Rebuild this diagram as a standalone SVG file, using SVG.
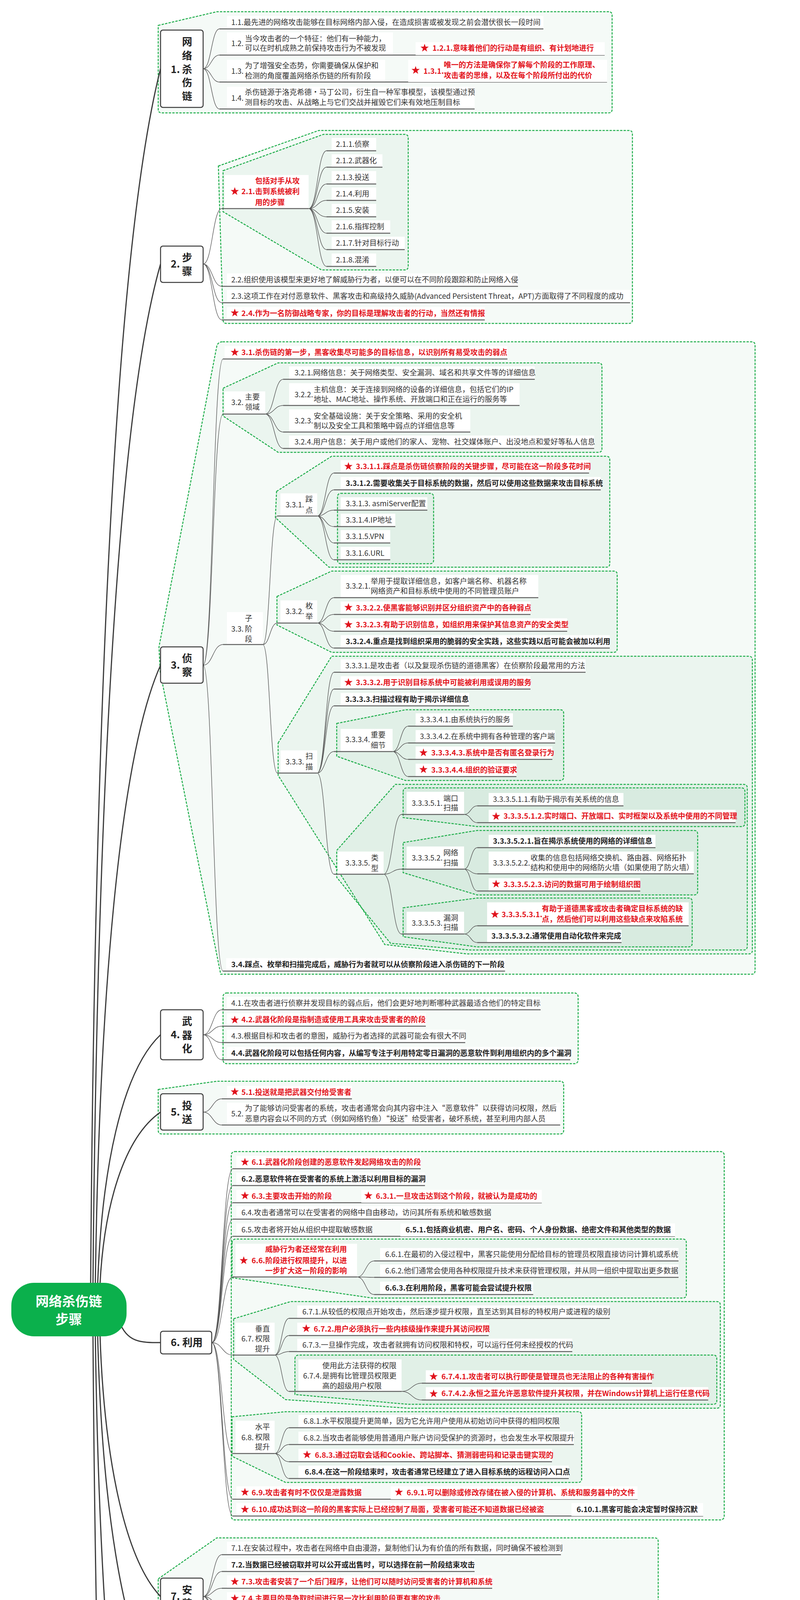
<svg xmlns="http://www.w3.org/2000/svg" width="2048" height="7608" viewBox="0 0 2048 7608">
<defs>
<style>
text{font-family:"Noto Sans CJK SC","Noto Sans",sans-serif}
.t{font-size:19px;fill:#333}
.b{font-weight:bold;fill:#222}
.r{font-weight:bold;fill:#e3141c}
.h{font-size:26px;font-weight:bold;fill:#222}
.hm{text-anchor:middle}
.bx{fill:#fff}
.u{stroke:#606060;stroke-width:2.5}
.c{fill:none;stroke:#5a5a5a;stroke-width:1.4}
.bd{fill:#1e9650;fill-opacity:.045;stroke:#20ae4c;stroke-width:2.5;stroke-dasharray:6 3}
.k{fill:#fff;stroke:#3a3a3a;stroke-width:2.5}
.rc{fill:none;stroke:#3a3a3a;stroke-width:3}
.rt{font-size:34px;font-weight:bold;fill:#fff;text-anchor:middle}
</style>
<path id="s" fill="#e0121c" d="M0,-11L2.6,-3.6L10.5,-3.4L4.2,1.4L6.5,8.9L0,4.4L-6.5,8.9L-4.2,1.4L-10.5,-3.4L-2.6,-3.6Z"/>
</defs>
<rect width="2048" height="7608" fill="#fff"/>
<g id="boundaries">
<path class="bd" d="M405,65 L555,30 L1558,30 Q1567,30 1567,39 L1567,280 Q1567,289 1558,289 L414,289 Q405,289 405,280 Z"/>
<path class="bd" d="M559,425 L816,334 L1610,334 Q1619,334 1619,343 L1619,819 Q1619,828 1610,828 L580,828 Q571,828 571,819 Z"/>
<path class="bd" d="M571,437 L828,344 L1036,344 Q1045,344 1045,353 L1045,682 Q1045,691 1036,691 L823,691 L571,542 Z"/>
<path class="bd" d="M570,875 L1924,875 Q1933,875 1933,884 L1933,2485 Q1933,2494 1924,2494 L565,2494 L410,1720 L407,1656 L555,886 Q558,875 570,875 Z"/>
<path class="bd" d="M571,994 L712,929 L1532,929 Q1541,929 1541,938 L1541,1149 Q1541,1158 1532,1158 L712,1158 L571,1065 Z"/>
<path class="bd" d="M708,1258 L849,1168 L1552,1168 Q1561,1168 1561,1177 L1561,1443 Q1561,1452 1552,1452 L842,1452 L705,1325 Z"/>
<rect class="bd" x="864" y="1263" width="246" height="180" rx="8"/>
<path class="bd" d="M709,1527 L849,1462 L1571,1462 Q1580,1462 1580,1471 L1580,1661 Q1580,1670 1571,1670 L849,1670 L709,1600 Z"/>
<path class="bd" d="M712,1902 L849,1680 L1917,1680 Q1926,1680 1926,1689 L1926,2433 Q1926,2442 1917,2442 L1195,2442 L985,2418 L712,1985 Z"/>
<path class="bd" d="M862,1852 L1038,1817 L1434,1817 Q1443,1817 1443,1826 L1443,1989 Q1443,1998 1434,1998 L1038,1998 L862,1936 Z"/>
<path class="bd" d="M862,2177 L1012,2008 L1904,2008 Q1913,2008 1913,2017 L1913,2423 Q1913,2432 1904,2432 L1205,2432 L1000,2415 L862,2246 Z"/>
<path class="bd" d="M1032,2027 Q1032,2017 1042,2017 L1898,2017 Q1907,2017 1907,2026 L1907,2107 Q1907,2116 1898,2116 L1221,2116 L1032,2093 Z"/>
<path class="bd" d="M1032,2157 L1221,2126 L1777,2126 Q1786,2126 1786,2135 L1786,2282 Q1786,2291 1777,2291 L1221,2291 L1032,2234 Z"/>
<path class="bd" d="M1032,2324 L1221,2299 L1763,2299 Q1772,2299 1772,2308 L1772,2415 Q1772,2424 1763,2424 L1221,2424 L1032,2398 Z"/>
<rect class="bd" x="571" y="2542" width="909" height="181" rx="9"/>
<path class="bd" d="M405,2789 L555,2768 L1434,2768 Q1443,2768 1443,2777 L1443,2894 Q1443,2903 1434,2903 L414,2903 Q405,2903 405,2894 Z"/>
<rect class="bd" x="592" y="2948" width="1262" height="943" rx="9"/>
<path class="bd" d="M594,3182 Q594,3172 604,3172 L1748,3172 Q1757,3172 1757,3181 L1757,3314 Q1757,3323 1748,3323 L953,3323 L594,3271 Z"/>
<path class="bd" d="M598,3376 L744,3332 L1835,3332 Q1844,3332 1844,3341 L1844,3596 Q1844,3605 1835,3605 L1045,3605 L731,3583 L598,3480 Z"/>
<path class="bd" d="M755,3479 Q755,3469 765,3469 L1826,3469 Q1835,3469 1835,3478 L1835,3586 Q1835,3595 1826,3595 L1045,3595 L755,3570 Z"/>
<path class="bd" d="M594,3627 L731,3614 L1480,3614 Q1489,3614 1489,3623 L1489,3786 Q1489,3795 1480,3795 L731,3795 L594,3728 Z"/>
<path class="bd" d="M405,4042 L555,3937 L1676,3937 Q1685,3937 1685,3946 L1685,4196 Q1685,4205 1676,4205 L555,4205 L405,4144 Z"/>
<rect class="bd" x="649" y="4251" width="679" height="137" rx="9"/>
<path class="bd" d="M568,4435 L2002,4435 Q2011,4435 2011,4444 L2011,5589 Q2011,5598 2002,5598 L560,5598 L405,5072 L405,4907 L555,4442 Q558,4435 568,4435 Z"/>
<path class="bd" d="M571,4497 Q571,4487 581,4487 L1412,4487 Q1421,4487 1421,4496 L1421,4579 Q1421,4588 1412,4588 L862,4588 L571,4563 Z"/>
<path class="bd" d="M571,4670 L784,4596 L1859,4596 Q1868,4596 1868,4605 L1868,5008 Q1868,5017 1859,5017 L1045,5017 L571,4770 Z"/>
<path class="bd" d="M803,4790 L1077,4732 L1848,4732 Q1857,4732 1857,4741 L1857,4998 Q1857,5007 1848,5007 L1064,5007 L803,4895 Z"/>
<path class="bd" d="M571,5226 L862,5090 L1100,5070 L1998,5070 Q2007,5070 2007,5079 L2007,5535 Q2007,5544 1998,5544 L1085,5544 L855,5521 L571,5331 Z"/>
<path class="bd" d="M888,5098 L1110,5078 L1950,5078 Q1959,5078 1959,5087 L1959,5164 Q1959,5173 1950,5173 L1110,5173 L888,5153 Z"/>
<path class="bd" d="M888,5307 L1058,5268 L1985,5268 Q1994,5268 1994,5277 L1994,5422 Q1994,5431 1985,5431 L1071,5431 L888,5360 Z"/>
<path class="bd" d="M1077,5329 Q1077,5319 1087,5319 L1979,5319 Q1988,5319 1988,5328 L1988,5411 Q1988,5420 1979,5420 L1384,5420 L1077,5391 Z"/>
<path class="bd" d="M888,5460 L1077,5440 L1836,5440 Q1845,5440 1845,5449 L1845,5526 Q1845,5535 1836,5535 L1077,5535 L888,5513 Z"/>
<path class="bd" d="M596,5643 L1972,5643 Q1981,5643 1981,5652 L1981,7569 Q1981,7578 1972,7578 L1156,7578 L575,7403 L575,5664 Q575,5643 596,5643 Z"/>
<path class="bd" d="M588,5707 Q588,5697 598,5697 L1861,5697 Q1870,5697 1870,5706 L1870,5787 Q1870,5796 1861,5796 L934,5796 L588,5774 Z"/>
<path class="bd" d="M584,6175 L716,5892 L894,5848 L1843,5848 Q1852,5848 1852,5857 L1852,6798 Q1852,6807 1843,6807 L940,6807 L712,6720 L578,6340 Z"/>
<path class="bd" d="M738,5904 L901,5859 L1689,5859 Q1698,5859 1698,5868 L1698,5989 Q1698,5998 1689,5998 L901,5998 L738,5953 Z"/>
<path class="bd" d="M738,6088 L920,6007 L1804,6007 Q1813,6007 1813,6016 L1813,6219 Q1813,6228 1804,6228 L927,6228 L738,6141 Z"/>
<path class="bd" d="M738,6324 L901,6279 L1728,6279 Q1737,6279 1737,6288 L1737,6409 Q1737,6418 1728,6418 L901,6418 L738,6374 Z"/>
<path class="bd" d="M738,6473 L973,6428 L1741,6428 Q1750,6428 1750,6437 L1750,6555 Q1750,6564 1741,6564 L973,6564 L738,6520 Z"/>
<path class="bd" d="M738,6659 L960,6574 L1682,6574 Q1691,6574 1691,6583 L1691,6788 Q1691,6797 1682,6797 L960,6797 L738,6708 Z"/>
<path class="bd" d="M588,6826 Q588,6816 598,6816 L1562,6816 Q1571,6816 1571,6825 L1571,7143 Q1571,7152 1562,7152 L888,7152 L581,7113 Z"/>
<path class="bd" d="M590,6902 L901,6868 L1552,6868 Q1561,6868 1561,6877 L1561,7005 Q1561,7014 1552,7014 L888,7014 L590,6980 Z"/>
<path class="bd" d="M588,7033 Q588,7023 598,7023 L1490,7023 Q1499,7023 1499,7032 L1499,7133 Q1499,7142 1490,7142 L860,7142 L588,7108 Z"/>
<path class="bd" d="M590,7289 L862,7232 L1960,7232 Q1969,7232 1969,7241 L1969,7557 Q1969,7566 1960,7566 L1170,7566 L590,7395 Z"/>
<path class="bd" d="M882,7407 Q882,7397 892,7397 L1950,7397 Q1959,7397 1959,7406 L1959,7547 Q1959,7556 1950,7556 L1175,7556 L882,7500 Z"/>
</g>
<g id="connectors">
<path class="c" d="M520,176C541,176 541,74 562,74M520,176C541,176 541,141 562,141M520,176C541,176 541,210 562,210M520,176C541,176 541,279 562,279
M520,676C544,676 544,534 568,534M520,676C544,676 544,733 568,733M520,676C544,676 544,775 568,775M520,676C544,676 544,819 568,819
M790,534C813,534 813,386 836,386M790,534C813,534 813,428 836,428M790,534C813,534 813,471 836,471M790,534C813,534 813,513 836,513M790,534C813,534 813,555 836,555M790,534C813,534 813,597 836,597M790,534C813,534 813,639 836,639M790,534C813,534 813,682 836,682
M520,1703C545,1703 545,919 571,919M520,1703C545,1703 545,1060 571,1060M520,1703C545,1703 545,1650 571,1650M520,1703C545,1703 545,2486 571,2486
M679,1060C702,1060 702,971 725,971M679,1060C702,1060 702,1038 725,1038M679,1060C702,1060 702,1106 725,1106M679,1060C702,1060 702,1148 725,1148
M673,1650C691,1650 691,1321 710,1321M673,1650C691,1650 691,1595 710,1595M673,1650C691,1650 691,1979 710,1979
M812,1321C833,1321 833,1211 855,1211M812,1321C833,1321 833,1254 855,1254M812,1321C833,1321 833,1306 855,1306M812,1321C833,1321 833,1348 855,1348M812,1321C833,1321 833,1390 855,1390M812,1321C833,1321 833,1433 855,1433
M812,1595C833,1595 833,1530 855,1530M812,1595C833,1595 833,1573 855,1573M812,1595C833,1595 833,1616 855,1616M812,1595C833,1595 833,1659 855,1659
M812,1979C833,1979 833,1721 855,1721M812,1979C833,1979 833,1764 855,1764M812,1979C833,1979 833,1807 855,1807M812,1979C833,1979 833,1924 855,1924M812,1979C833,1979 833,2238 855,2238
M1005,1924C1025,1924 1025,1859 1045,1859M1005,1924C1025,1924 1025,1902 1045,1902M1005,1924C1025,1924 1025,1944 1045,1944M1005,1924C1025,1924 1025,1988 1045,1988
M982,2238C1005,2238 1005,2085 1028,2085M982,2238C1005,2238 1005,2225 1028,2225M982,2238C1005,2238 1005,2391 1028,2391
M1188,2085C1205,2085 1205,2063 1222,2063M1188,2085C1205,2085 1205,2106 1222,2106
M1188,2225C1205,2225 1205,2170 1222,2170M1188,2225C1205,2225 1205,2237 1222,2237M1188,2225C1205,2225 1205,2281 1222,2281
M1188,2391C1205,2391 1205,2370 1222,2370M1188,2391C1205,2391 1205,2413 1222,2413
M520,2649C544,2649 544,2585 568,2585M520,2649C544,2649 544,2627 568,2627M520,2649C544,2649 544,2669 568,2669M520,2649C544,2649 544,2713 568,2713
M520,2847C544,2847 544,2813 568,2813M520,2847C544,2847 544,2880 568,2880
M542,3437C569,3437 569,2992 596,2992M542,3437C569,3437 569,3035 596,3035M542,3437C569,3437 569,3079 596,3079M542,3437C569,3437 569,3121 596,3121M542,3437C569,3437 569,3165 596,3165M542,3437C569,3437 569,3269 596,3269M542,3437C569,3437 569,3469 596,3469M542,3437C569,3437 569,3721 596,3721M542,3437C569,3437 569,3838 596,3838M542,3437C569,3437 569,3881 596,3881
M914,3269C936,3269 936,3228 958,3228M914,3269C936,3269 936,3270 958,3270M914,3269C936,3269 936,3314 958,3314
M703,3469C721,3469 721,3375 740,3375M703,3469C721,3469 721,3419 740,3419M703,3469C721,3469 721,3460 740,3460M703,3469C721,3469 721,3562 740,3562
M1028,3562C1054,3562 1054,3541 1080,3541M1028,3562C1054,3562 1054,3584 1080,3584
M703,3721C721,3721 721,3655 740,3655M703,3721C721,3721 721,3698 740,3698M703,3721C721,3721 721,3742 740,3742M703,3721C721,3721 721,3785 740,3785
M520,4087C544,4087 544,3980 568,3980M520,4087C544,4087 544,4023 568,4023M520,4087C544,4087 544,4066 568,4066M520,4087C544,4087 544,4109 568,4109M520,4087C544,4087 544,4153 568,4153M520,4087C544,4087 544,4195 568,4195
M594,4337C621,4337 621,4294 649,4294M594,4337C621,4337 621,4337 649,4337M594,4337C621,4337 621,4378 649,4378
M520,5032C544,5032 544,4478 568,4478M520,5032C544,5032 544,4556 568,4556M520,5032C544,5032 544,4763 568,4763M520,5032C544,5032 544,5060 568,5060M520,5032C544,5032 544,5323 568,5323M520,5032C544,5032 544,5587 568,5587
M832,4556C856,4556 856,4534 880,4534M832,4556C856,4556 856,4577 880,4577
M754,4763C772,4763 772,4639 790,4639M754,4763C772,4763 772,4681 790,4681M754,4763C772,4763 772,4723 790,4723M754,4763C772,4763 772,4886 790,4886
M1041,4886C1060,4886 1060,4776 1080,4776M1041,4886C1060,4886 1060,4817 1080,4817M1041,4886C1060,4886 1060,4885 1080,4885M1041,4886C1060,4886 1060,4927 1080,4927M1041,4886C1060,4886 1060,4997 1080,4997
M836,5323C858,5323 858,5144 880,5144M836,5323C858,5323 858,5216 880,5216M836,5323C858,5323 858,5259 880,5259M836,5323C858,5323 858,5350 880,5350M836,5323C858,5323 858,5504 880,5504
M1073,5144C1091,5144 1091,5123 1110,5123M1073,5144C1091,5144 1091,5164 1110,5164
M1016,5350C1035,5350 1035,5311 1055,5311M1016,5350C1035,5350 1035,5389 1055,5389
M1345,5389C1365,5389 1365,5368 1385,5368M1345,5389C1365,5389 1365,5411 1385,5411
M1036,5504C1058,5504 1058,5482 1080,5482M1036,5504C1058,5504 1058,5525 1080,5525
M535,6531C561,6531 561,5686 588,5686M535,6531C561,6531 561,5765 588,5765M535,6531C561,6531 561,5839 588,5839M535,6531C561,6531 561,6324 588,6324M535,6531C561,6531 561,6858 588,6858M535,6531C561,6531 561,6970 588,6970M535,6531C561,6531 561,7099 588,7099M535,6531C561,6531 561,7221 588,7221M535,6531C561,6531 561,7383 588,7383
M905,5765C922,5765 922,5744 940,5744M905,5765C922,5765 922,5786 940,5786
M699,6324C717,6324 717,5945 735,5945M699,6324C717,6324 717,6134 735,6134M699,6324C717,6324 717,6270 735,6270M699,6324C717,6324 717,6365 735,6365M699,6324C717,6324 717,6513 735,6513M699,6324C717,6324 717,6702 735,6702
M855,5945C877,5945 877,5902 900,5902M855,5945L900,5945M855,5945C877,5945 877,5988 900,5988
M875,6134C895,6134 895,6050 915,6050M875,6134C895,6134 895,6092 915,6092M875,6134L915,6134M875,6134C895,6134 895,6176 915,6176M875,6134C895,6134 895,6218 915,6218
M855,6365C877,6365 877,6323 900,6323M855,6365L900,6365M855,6365C877,6365 877,6408 900,6408
M927,6513C946,6513 946,6470 965,6470M927,6513L965,6513M927,6513C946,6513 946,6554 965,6554
M904,6702C924,6702 924,6618 945,6618M904,6702C924,6702 924,6660 945,6660M904,6702L945,6702M904,6702C924,6702 924,6743 945,6743M904,6702C924,6702 924,6787 945,6787
M855,6970C872,6970 872,6936 890,6936M855,6970C872,6970 872,7004 890,7004
M842,7099C861,7099 861,7065 880,7065M842,7099C861,7099 861,7132 880,7132
M829,7383C849,7383 849,7275 870,7275M829,7383C849,7383 849,7317 870,7317M829,7383C849,7383 849,7386 870,7386M829,7383C849,7383 849,7493 870,7493
M1147,7493C1166,7493 1166,7439 1185,7439M1147,7493C1166,7493 1166,7480 1185,7480M1147,7493C1166,7493 1166,7548 1185,7548"/>
</g>
<g id="root-connectors">
<path class="rc" d="M232,3288C242,1888 292,643 411,176"/>
<path class="rc" d="M238,3288C248,2113 298,1068 411,676"/>
<path class="rc" d="M244,3288C254,2575 304,1941 411,1703"/>
<path class="rc" d="M250,3288C260,3000 310,2745 411,2649"/>
<path class="rc" d="M256,3288C266,3090 316,2913 411,2847"/>
<path class="rc" d="M305,3382C325,3437 360,3437 411,3437"/>
<path class="rc" d="M256,3417C266,3719 316,3987 411,4087"/>
<path class="rc" d="M250,3417C260,3831 310,4199 411,4337"/>
<path class="rc" d="M244,3417C254,4144 304,4790 411,5032"/>
<path class="rc" d="M238,3417C248,4818 298,6064 411,6531"/>
</g>
<g id="root"><rect x="29" y="3284" width="295" height="137" rx="58" fill="#0bb04c"/><text class="rt" x="176" y="3344">网络杀伤链</text><text class="rt" x="176" y="3390">步骤</text></g>

<g id="n1"><rect class="k" x="411" y="77" width="109" height="198" rx="6"/><text class="h" x="437" y="187">1.</text><text class="h hm" x="479" y="116">网</text><text class="h hm" x="479" y="152">络</text><text class="h hm" x="479" y="187">杀</text><text class="h hm" x="479" y="221">伤</text><text class="h hm" x="479" y="256">链</text></g>
<g id="n1-1"><rect class="bx" x="581" y="41" width="810" height="33"/><text class="t" x="592" y="64">1.1.最先进的网络攻击能够在目标网络内部入侵，在造成损害或被发现之前会潜伏很长一段时间</text><line class="u" x1="562" y1="74" x2="1391" y2="74"/></g>
<g id="n1-2"><rect class="bx" x="581" y="83" width="425" height="58"/><text class="t" x="592" y="118">1.2.</text><text class="t" x="627" y="106">当今攻击者的一个特征：他们有一种能力，</text><text class="t" x="627" y="130">可以在时机成熟之前保持攻击行为不被发现</text><line class="u" x1="562" y1="141" x2="1548" y2="141"/></g>
<g id="n1-2-1"><rect class="bx" x="1064" y="108" width="484" height="33"/><use href="#s" x="1087" y="123"/><text class="t r" x="1107" y="130">1.2.1.意味着他们的行动是有组织、有计划地进行</text></g>
<g id="n1-3"><rect class="bx" x="581" y="153" width="405" height="57"/><text class="t" x="592" y="189">1.3.</text><text class="t" x="627" y="175">为了增强安全态势，你需要确保从保护和</text><text class="t" x="627" y="201">检测的角度覆盖网络杀伤链的所有阶段</text><line class="u" x1="562" y1="210" x2="1554" y2="210"/></g>
<g id="n1-3-1"><rect class="bx" x="1045" y="153" width="509" height="57"/><use href="#s" x="1064" y="180"/><text class="t r" x="1084" y="189">1.3.1.</text><text class="t r" x="1136" y="173">唯一的方法是确保你了解每个阶段的工作原理、</text><text class="t r" x="1136" y="200">攻击者的思维，以及在每个阶段所付出的代价</text></g>
<g id="n1-4"><rect class="bx" x="581" y="222" width="634" height="57"/><text class="t" x="592" y="258">1.4.</text><text class="t" x="627" y="243">杀伤链源于洛克希德·马丁公司，衍生自一种军事模型，该模型通过预</text><text class="t" x="627" y="269">测目标的攻击、从战略上与它们交战并摧毁它们来有效地压制目标</text><line class="u" x1="562" y1="279" x2="1215" y2="279"/></g>

<g id="n2"><rect class="k" x="411" y="630" width="109" height="93" rx="6"/><text class="h" x="437" y="685">2.</text><text class="h hm" x="479" y="669">步</text><text class="h hm" x="479" y="704">骤</text></g>
<g id="n2-1"><rect class="bx" x="575" y="448" width="215" height="86"/><use href="#s" x="601" y="490"/><text class="t r" x="618" y="497">2.1.</text><text class="t r" x="653" y="470">包括对手从攻</text><text class="t r" x="653" y="497">击到系统被利</text><text class="t r" x="653" y="525">用的步骤</text><line class="u" x1="568" y1="534" x2="790" y2="534"/></g>
<g id="n2-1-1"><rect class="bx" x="849" y="353" width="114" height="33"/><text class="t" x="860" y="376">2.1.1.侦察</text><line class="u" x1="836" y1="386" x2="963" y2="386"/></g>
<g id="n2-1-2"><rect class="bx" x="849" y="395" width="130" height="33"/><text class="t" x="860" y="418">2.1.2.武器化</text><line class="u" x1="836" y1="428" x2="979" y2="428"/></g>
<g id="n2-1-3"><rect class="bx" x="849" y="438" width="114" height="33"/><text class="t" x="860" y="461">2.1.3.投送</text><line class="u" x1="836" y1="471" x2="963" y2="471"/></g>
<g id="n2-1-4"><rect class="bx" x="849" y="480" width="114" height="33"/><text class="t" x="860" y="503">2.1.4.利用</text><line class="u" x1="836" y1="513" x2="963" y2="513"/></g>
<g id="n2-1-5"><rect class="bx" x="849" y="522" width="114" height="33"/><text class="t" x="860" y="545">2.1.5.安装</text><line class="u" x1="836" y1="555" x2="963" y2="555"/></g>
<g id="n2-1-6"><rect class="bx" x="849" y="564" width="150" height="33"/><text class="t" x="860" y="587">2.1.6.指挥控制</text><line class="u" x1="836" y1="597" x2="999" y2="597"/></g>
<g id="n2-1-7"><rect class="bx" x="849" y="606" width="187" height="33"/><text class="t" x="860" y="629">2.1.7.针对目标行动</text><line class="u" x1="836" y1="639" x2="1036" y2="639"/></g>
<g id="n2-1-8"><rect class="bx" x="849" y="649" width="114" height="33"/><text class="t" x="860" y="672">2.1.8.混淆</text><line class="u" x1="836" y1="682" x2="963" y2="682"/></g>
<g id="n2-2"><rect class="bx" x="581" y="700" width="745" height="33"/><text class="t" x="592" y="723">2.2.组织使用该模型来更好地了解威胁行为者，以便可以在不同阶段跟踪和防止网络入侵</text><line class="u" x1="568" y1="733" x2="1326" y2="733"/></g>
<g id="n2-3"><rect class="bx" x="581" y="742" width="1032" height="33"/><text class="t" x="592" y="765">2.3.这项工作在对付恶意软件、黑客攻击和高级持久威胁(Advanced Persistent Threat，APT)方面取得了不同程度的成功</text><line class="u" x1="568" y1="775" x2="1613" y2="775"/></g>
<g id="n2-4"><rect class="bx" x="581" y="786" width="660" height="33"/><use href="#s" x="601" y="801"/><text class="t r" x="618" y="809">2.4.作为一名防御战略专家，你的目标是理解攻击者的行动，当然还有情报</text><line class="u" x1="568" y1="819" x2="1241" y2="819"/></g>

<g id="n3"><rect class="k" x="411" y="1656" width="109" height="93" rx="6"/><text class="h" x="437" y="1712">3.</text><text class="h hm" x="479" y="1695">侦</text><text class="h hm" x="479" y="1730">察</text></g>
<g id="n3-1"><rect class="bx" x="575" y="886" width="724" height="33"/><use href="#s" x="601" y="902"/><text class="t r" x="618" y="909">3.1.杀伤链的第一步，黑客收集尽可能多的目标信息，以识别所有易受攻击的弱点</text><line class="u" x1="571" y1="919" x2="1299" y2="919"/></g>
<g id="n3-2"><rect class="bx" x="575" y="1002" width="104" height="58"/><text class="t" x="592" y="1037">3.2.</text><text class="t" x="627" y="1023">主要</text><text class="t" x="627" y="1049">领域</text><line class="u" x1="571" y1="1060" x2="679" y2="1060"/></g>
<g id="n3-2-1"><rect class="bx" x="740" y="938" width="629" height="33"/><text class="t" x="754" y="961">3.2.1.网络信息：关于网络类型、安全漏洞、域名和共享文件等的详细信息</text><line class="u" x1="725" y1="971" x2="1369" y2="971"/></g>
<g id="n3-2-2"><rect class="bx" x="740" y="981" width="590" height="57"/><text class="t" x="754" y="1017">3.2.2.</text><text class="t" x="803" y="1004">主机信息：关于连接到网络的设备的详细信息，包括它们的IP</text><text class="t" x="803" y="1029">地址、MAC地址、操作系统、开放端口和正在运行的服务等</text><line class="u" x1="725" y1="1038" x2="1330" y2="1038"/></g>
<g id="n3-2-3"><rect class="bx" x="740" y="1048" width="464" height="58"/><text class="t" x="754" y="1084">3.2.3.</text><text class="t" x="803" y="1072">安全基础设施：关于安全策略、采用的安全机</text><text class="t" x="803" y="1097">制以及安全工具和策略中弱点的详细信息等</text><line class="u" x1="725" y1="1106" x2="1204" y2="1106"/></g>
<g id="n3-2-4"><rect class="bx" x="740" y="1115" width="781" height="33"/><text class="t" x="754" y="1138">3.2.4.用户信息：关于用户或他们的家人、宠物、社交媒体账户、出没地点和爱好等私人信息</text><line class="u" x1="725" y1="1148" x2="1521" y2="1148"/></g>
<g id="n3-3"><rect class="bx" x="581" y="1567" width="92" height="83"/><text class="t" x="592" y="1617">3.3.</text><text class="t" x="627" y="1590">子</text><text class="t" x="627" y="1617">阶</text><text class="t" x="627" y="1643">段</text><line class="u" x1="571" y1="1650" x2="673" y2="1650"/></g>
<g id="n3-3-1"><rect class="bx" x="718" y="1263" width="94" height="58"/><text class="t" x="731" y="1299">3.3.1.</text><text class="t" x="782" y="1285">踩</text><text class="t" x="782" y="1313">点</text><line class="u" x1="710" y1="1321" x2="812" y2="1321"/></g>
<g id="n3-3-1-1"><rect class="bx" x="872" y="1178" width="636" height="33"/><use href="#s" x="892" y="1194"/><text class="t r" x="911" y="1201">3.3.1.1.踩点是杀伤链侦察阶段的关键步骤，尽可能在这一阶段多花时间</text><line class="u" x1="855" y1="1211" x2="1508" y2="1211"/></g>
<g id="n3-3-1-2"><rect class="bx" x="872" y="1221" width="666" height="33"/><text class="t b" x="885" y="1244">3.3.1.2.需要收集关于目标系统的数据，然后可以使用这些数据来攻击目标系统</text><line class="u" x1="855" y1="1254" x2="1538" y2="1254"/></g>
<g id="n3-3-1-3"><rect class="bx" x="872" y="1273" width="222" height="33"/><text class="t" x="885" y="1296">3.3.1.3. asmiServer配置</text><line class="u" x1="855" y1="1306" x2="1094" y2="1306"/></g>
<g id="n3-3-1-4"><rect class="bx" x="872" y="1315" width="140" height="33"/><text class="t" x="885" y="1338">3.3.1.4.IP地址</text><line class="u" x1="855" y1="1348" x2="1012" y2="1348"/></g>
<g id="n3-3-1-5"><rect class="bx" x="872" y="1357" width="127" height="33"/><text class="t" x="885" y="1380">3.3.1.5.VPN</text><line class="u" x1="855" y1="1390" x2="999" y2="1390"/></g>
<g id="n3-3-1-6"><rect class="bx" x="872" y="1400" width="127" height="33"/><text class="t" x="885" y="1423">3.3.1.6.URL</text><line class="u" x1="855" y1="1433" x2="999" y2="1433"/></g>
<g id="n3-3-2"><rect class="bx" x="718" y="1537" width="94" height="58"/><text class="t" x="731" y="1572">3.3.2.</text><text class="t" x="782" y="1558">枚</text><text class="t" x="782" y="1585">举</text><line class="u" x1="710" y1="1595" x2="812" y2="1595"/></g>
<g id="n3-3-2-1"><rect class="bx" x="872" y="1472" width="506" height="58"/><text class="t" x="885" y="1507">3.3.2.1.</text><text class="t" x="949" y="1495">举用于提取详细信息，如客户端名称、机器名称</text><text class="t" x="949" y="1520">网络资产和目标系统中使用的不同管理员账户</text><line class="u" x1="855" y1="1530" x2="1378" y2="1530"/></g>
<g id="n3-3-2-2"><rect class="bx" x="872" y="1540" width="486" height="33"/><use href="#s" x="892" y="1555"/><text class="t r" x="911" y="1563">3.3.2.2.使黑客能够识别并区分组织资产中的各种弱点</text><line class="u" x1="855" y1="1573" x2="1358" y2="1573"/></g>
<g id="n3-3-2-3"><rect class="bx" x="872" y="1583" width="580" height="33"/><use href="#s" x="892" y="1599"/><text class="t r" x="911" y="1606">3.3.2.3.有助于识别信息，如组织用来保护其信息资产的安全类型</text><line class="u" x1="855" y1="1616" x2="1452" y2="1616"/></g>
<g id="n3-3-2-4"><rect class="bx" x="872" y="1626" width="689" height="33"/><text class="t b" x="885" y="1649">3.3.2.4.重点是找到组织采用的脆弱的安全实践，这些实践以后可能会被加以利用</text><line class="u" x1="855" y1="1659" x2="1561" y2="1659"/></g>
<g id="n3-3-3"><rect class="bx" x="718" y="1921" width="94" height="58"/><text class="t" x="731" y="1957">3.3.3.</text><text class="t" x="782" y="1943">扫</text><text class="t" x="782" y="1970">描</text><line class="u" x1="710" y1="1979" x2="812" y2="1979"/></g>
<g id="n3-3-3-1"><rect class="bx" x="872" y="1688" width="627" height="33"/><text class="t" x="884" y="1711">3.3.3.1.是攻击者（以及复现杀伤链的道德黑客）在侦察阶段最常用的方法</text><line class="u" x1="855" y1="1721" x2="1499" y2="1721"/></g>
<g id="n3-3-3-2"><rect class="bx" x="872" y="1731" width="486" height="33"/><use href="#s" x="892" y="1747"/><text class="t r" x="911" y="1754">3.3.3.2.用于识别目标系统中可能被利用或误用的服务</text><line class="u" x1="855" y1="1764" x2="1358" y2="1764"/></g>
<g id="n3-3-3-3"><rect class="bx" x="872" y="1774" width="329" height="33"/><text class="t b" x="884" y="1797">3.3.3.3.扫描过程有助于揭示详细信息</text><line class="u" x1="855" y1="1807" x2="1201" y2="1807"/></g>
<g id="n3-3-3-4"><rect class="bx" x="872" y="1866" width="133" height="58"/><text class="t" x="884" y="1900">3.3.3.4.</text><text class="t" x="949" y="1888">重要</text><text class="t" x="949" y="1915">细节</text><line class="u" x1="855" y1="1924" x2="1005" y2="1924"/></g>
<g id="n3-3-3-4-1"><rect class="bx" x="1064" y="1826" width="249" height="33"/><text class="t" x="1075" y="1849">3.3.3.4.1.由系统执行的服务</text><line class="u" x1="1045" y1="1859" x2="1313" y2="1859"/></g>
<g id="n3-3-3-4-2"><rect class="bx" x="1064" y="1869" width="357" height="33"/><text class="t" x="1075" y="1892">3.3.3.4.2.在系统中拥有各种管理的客户端</text><line class="u" x1="1045" y1="1902" x2="1421" y2="1902"/></g>
<g id="n3-3-3-4-3"><rect class="bx" x="1064" y="1911" width="350" height="33"/><use href="#s" x="1084" y="1927"/><text class="t r" x="1104" y="1934">3.3.3.4.3.系统中是否有匿名登录行为</text><line class="u" x1="1045" y1="1944" x2="1414" y2="1944"/></g>
<g id="n3-3-3-4-4"><rect class="bx" x="1064" y="1955" width="258" height="33"/><use href="#s" x="1084" y="1970"/><text class="t r" x="1104" y="1978">3.3.3.4.4.组织的验证要求</text><line class="u" x1="1045" y1="1988" x2="1322" y2="1988"/></g>
<g id="n3-3-3-5"><rect class="bx" x="864" y="2180" width="118" height="58"/><text class="t" x="884" y="2216">3.3.3.5.</text><text class="t" x="950" y="2203">类</text><text class="t" x="950" y="2230">型</text><line class="u" x1="855" y1="2238" x2="982" y2="2238"/></g>
<g id="n3-3-3-5-1"><rect class="bx" x="1041" y="2027" width="147" height="58"/><text class="t" x="1054" y="2063">3.3.3.5.1.</text><text class="t" x="1135" y="2051">端口</text><text class="t" x="1135" y="2075">扫描</text><line class="u" x1="1028" y1="2085" x2="1188" y2="2085"/></g>
<g id="n3-3-3-5-1-1"><rect class="bx" x="1251" y="2030" width="345" height="33"/><text class="t" x="1262" y="2053">3.3.3.5.1.1.有助于揭示有关系统的信息</text><line class="u" x1="1222" y1="2063" x2="1596" y2="2063"/></g>
<g id="n3-3-3-5-1-2"><rect class="bx" x="1251" y="2073" width="632" height="33"/><use href="#s" x="1270" y="2090"/><text class="t r" x="1289" y="2096">3.3.3.5.1.2.实时端口、开放端口、实时框架以及系统中使用的不同管理</text><line class="u" x1="1222" y1="2106" x2="1883" y2="2106"/></g>
<g id="n3-3-3-5-2"><rect class="bx" x="1041" y="2167" width="147" height="58"/><text class="t" x="1054" y="2203">3.3.3.5.2.</text><text class="t" x="1135" y="2190">网络</text><text class="t" x="1135" y="2216">扫描</text><line class="u" x1="1028" y1="2225" x2="1188" y2="2225"/></g>
<g id="n3-3-3-5-2-1"><rect class="bx" x="1251" y="2137" width="427" height="33"/><text class="t b" x="1262" y="2160">3.3.3.5.2.1.旨在揭示系统使用的网络的详细信息</text><line class="u" x1="1222" y1="2170" x2="1678" y2="2170"/></g>
<g id="n3-3-3-5-2-2"><rect class="bx" x="1251" y="2180" width="525" height="57"/><text class="t" x="1262" y="2216">3.3.3.5.2.2.</text><text class="t" x="1358" y="2203">收集的信息包括网络交换机、路由器、网络拓扑</text><text class="t" x="1358" y="2228">结构和使用中的网络防火墙（如果使用了防火墙）</text><line class="u" x1="1222" y1="2237" x2="1776" y2="2237"/></g>
<g id="n3-3-3-5-2-3"><rect class="bx" x="1251" y="2248" width="388" height="33"/><use href="#s" x="1270" y="2263"/><text class="t r" x="1289" y="2271">3.3.3.5.2.3.访问的数据可用于绘制组织图</text><line class="u" x1="1222" y1="2281" x2="1639" y2="2281"/></g>
<g id="n3-3-3-5-3"><rect class="bx" x="1041" y="2334" width="147" height="57"/><text class="t" x="1054" y="2370">3.3.3.5.3.</text><text class="t" x="1135" y="2357">漏洞</text><text class="t" x="1135" y="2381">扫描</text><line class="u" x1="1028" y1="2391" x2="1188" y2="2391"/></g>
<g id="n3-3-3-5-3-1"><rect class="bx" x="1247" y="2310" width="516" height="60"/><use href="#s" x="1267" y="2341"/><text class="t r" x="1284" y="2348">3.3.3.5.3.1.</text><text class="t r" x="1387" y="2333">有助于道德黑客或攻击者确定目标系统的缺</text><text class="t r" x="1387" y="2360">点，然后他们可以利用这些缺点来攻陷系统</text><line class="u" x1="1222" y1="2370" x2="1763" y2="2370"/></g>
<g id="n3-3-3-5-3-2"><rect class="bx" x="1247" y="2380" width="344" height="33"/><text class="t b" x="1258" y="2403">3.3.3.5.3.2.通常使用自动化软件来完成</text><line class="u" x1="1222" y1="2413" x2="1591" y2="2413"/></g>
<g id="n3-4"><rect class="bx" x="579" y="2453" width="714" height="33"/><text class="t b" x="592" y="2476">3.4.踩点、枚举和扫描完成后，威胁行为者就可以从侦察阶段进入杀伤链的下一阶段</text><line class="u" x1="571" y1="2486" x2="1293" y2="2486"/></g>

<g id="n4"><rect class="k" x="411" y="2585" width="109" height="128" rx="6"/><text class="h" x="437" y="2658">4.</text><text class="h hm" x="479" y="2624">武</text><text class="h hm" x="479" y="2660">器</text><text class="h hm" x="479" y="2694">化</text></g>
<g id="n4-1"><rect class="bx" x="581" y="2552" width="803" height="33"/><text class="t" x="592" y="2575">4.1.在攻击者进行侦察并发现目标的弱点后，他们会更好地判断哪种武器最适合他们的特定目标</text><line class="u" x1="568" y1="2585" x2="1384" y2="2585"/></g>
<g id="n4-2"><rect class="bx" x="581" y="2594" width="509" height="33"/><use href="#s" x="601" y="2611"/><text class="t r" x="618" y="2617">4.2.武器化阶段是指制造或使用工具来攻击受害者的阶段</text><line class="u" x1="568" y1="2627" x2="1090" y2="2627"/></g>
<g id="n4-3"><rect class="bx" x="581" y="2636" width="610" height="33"/><text class="t" x="592" y="2659">4.3.根据目标和攻击者的意图，威胁行为者选择的武器可能会有很大不同</text><line class="u" x1="568" y1="2669" x2="1191" y2="2669"/></g>
<g id="n4-4"><rect class="bx" x="581" y="2680" width="879" height="33"/><text class="t b" x="592" y="2703">4.4.武器化阶段可以包括任何内容，从编写专注于利用特定零日漏洞的恶意软件到利用组织内的多个漏洞</text><line class="u" x1="568" y1="2713" x2="1460" y2="2713"/></g>

<g id="n5"><rect class="k" x="411" y="2800" width="109" height="93" rx="6"/><text class="h" x="437" y="2856">5.</text><text class="h hm" x="479" y="2840">投</text><text class="h hm" x="479" y="2875">送</text></g>
<g id="n5-1"><rect class="bx" x="581" y="2780" width="320" height="33"/><use href="#s" x="601" y="2795"/><text class="t r" x="618" y="2803">5.1.投送就是把武器交付给受害者</text><line class="u" x1="568" y1="2813" x2="901" y2="2813"/></g>
<g id="n5-2"><rect class="bx" x="581" y="2823" width="853" height="57"/><text class="t" x="592" y="2858">5.2.</text><text class="t" x="627" y="2844">为了能够访问受害者的系统，攻击者通常会向其内容中注入“恶意软件”以获得访问权限，然后</text><text class="t" x="627" y="2871">恶意内容会以不同的方式（例如网络钓鱼）“投送”给受害者，破坏系统，甚至利用内部人员</text><line class="u" x1="568" y1="2880" x2="1434" y2="2880"/></g>

<g id="n6"><rect class="k" x="411" y="3408" width="131" height="58" rx="6"/><text class="h" x="437" y="3446">6. 利用</text></g>
<g id="n6-1"><rect class="bx" x="605" y="2959" width="472" height="33"/><use href="#s" x="627" y="2975"/><text class="t r" x="644" y="2982">6.1.武器化阶段创建的恶意软件发起网络攻击的阶段</text><line class="u" x1="596" y1="2992" x2="1077" y2="2992"/></g>
<g id="n6-2"><rect class="bx" x="605" y="3002" width="483" height="33"/><text class="t b" x="618" y="3025">6.2.恶意软件将在受害者的系统上激活以利用目标的漏洞</text><line class="u" x1="596" y1="3035" x2="1088" y2="3035"/></g>
<g id="n6-3"><rect class="bx" x="605" y="3046" width="246" height="33"/><use href="#s" x="627" y="3061"/><text class="t r" x="644" y="3069">6.3.主要攻击开始的阶段</text><line class="u" x1="596" y1="3079" x2="1387" y2="3079"/></g>
<g id="n6-3-1"><rect class="bx" x="925" y="3046" width="462" height="33"/><use href="#s" x="943" y="3061"/><text class="t r" x="962" y="3069">6.3.1.一旦攻击达到这个阶段，就被认为是成功的</text></g>
<g id="n6-4"><rect class="bx" x="605" y="3088" width="651" height="33"/><text class="t" x="618" y="3111">6.4.攻击者通常可以在受害者的网络中自由移动，访问其所有系统和敏感数据</text><line class="u" x1="596" y1="3121" x2="1256" y2="3121"/></g>
<g id="n6-5"><rect class="bx" x="605" y="3132" width="348" height="33"/><text class="t" x="618" y="3155">6.5.攻击者将开始从组织中提取敏感数据</text><line class="u" x1="596" y1="3165" x2="1728" y2="3165"/></g>
<g id="n6-5-1"><rect class="bx" x="1025" y="3132" width="703" height="33"/><text class="t b" x="1038" y="3155">6.5.1.包括商业机密、用户名、密码、个人身份数据、绝密文件和其他类型的数据</text></g>
<g id="n6-6"><rect class="bx" x="603" y="3184" width="311" height="85"/><use href="#s" x="624" y="3227"/><text class="t r" x="644" y="3234">6.6.</text><text class="t r" x="679" y="3205">威胁行为者还经常在利用</text><text class="t r" x="679" y="3234">阶段进行权限提升，以进</text><text class="t r" x="679" y="3260">一步扩大这一阶段的影响</text><line class="u" x1="596" y1="3269" x2="914" y2="3269"/></g>
<g id="n6-6-1"><rect class="bx" x="973" y="3195" width="764" height="33"/><text class="t" x="986" y="3218">6.6.1.在最初的入侵过程中，黑客只能使用分配给目标的管理员权限直接访问计算机或系统</text><line class="u" x1="958" y1="3228" x2="1737" y2="3228"/></g>
<g id="n6-6-2"><rect class="bx" x="973" y="3237" width="764" height="33"/><text class="t" x="986" y="3260">6.6.2.他们通常会使用各种权限提升技术来获得管理权限，并从同一组织中提取出更多数据</text><line class="u" x1="958" y1="3270" x2="1737" y2="3270"/></g>
<g id="n6-6-3"><rect class="bx" x="973" y="3281" width="392" height="33"/><text class="t b" x="986" y="3304">6.6.3.在利用阶段，黑客可能会尝试提升权限</text><line class="u" x1="958" y1="3314" x2="1365" y2="3314"/></g>
<g id="n6-7"><rect class="bx" x="603" y="3386" width="100" height="83"/><text class="t" x="618" y="3434">6.7.</text><text class="t" x="653" y="3409">垂直</text><text class="t" x="653" y="3434">权限</text><text class="t" x="653" y="3460">提升</text><line class="u" x1="596" y1="3469" x2="703" y2="3469"/></g>
<g id="n6-7-1"><rect class="bx" x="761" y="3342" width="800" height="33"/><text class="t" x="774" y="3365">6.7.1.从较低的权限点开始攻击，然后逐步提升权限，直至达到其目标的特权用户或进程的级别</text><line class="u" x1="740" y1="3375" x2="1561" y2="3375"/></g>
<g id="n6-7-2"><rect class="bx" x="761" y="3386" width="490" height="33"/><use href="#s" x="784" y="3401"/><text class="t r" x="803" y="3409">6.7.2.用户必须执行一些内核级操作来提升其访问权限</text><line class="u" x1="740" y1="3419" x2="1251" y2="3419"/></g>
<g id="n6-7-3"><rect class="bx" x="761" y="3427" width="704" height="33"/><text class="t" x="774" y="3450">6.7.3.一旦操作完成，攻击者就拥有访问权限和特权，可以运行任何未经授权的代码</text><line class="u" x1="740" y1="3460" x2="1465" y2="3460"/></g>
<g id="n6-7-4"><rect class="bx" x="764" y="3480" width="264" height="82"/><text class="t" x="776" y="3529">6.7.4.</text><text class="t" x="825" y="3503">使用此方法获得的权限</text><text class="t" x="825" y="3529">是拥有比管理员权限更</text><text class="t" x="825" y="3555">高的超级用户权限</text><line class="u" x1="740" y1="3562" x2="1028" y2="3562"/></g>
<g id="n6-7-4-1"><rect class="bx" x="1090" y="3508" width="579" height="33"/><use href="#s" x="1110" y="3524"/><text class="t r" x="1130" y="3531">6.7.4.1.攻击者可以执行即使是管理员也无法阻止的各种有害操作</text><line class="u" x1="1080" y1="3541" x2="1669" y2="3541"/></g>
<g id="n6-7-4-2"><rect class="bx" x="1090" y="3551" width="723" height="33"/><use href="#s" x="1110" y="3568"/><text class="t r" x="1130" y="3574">6.7.4.2.永恒之蓝允许恶意软件提升其权限，并在Windows计算机上运行任意代码</text><line class="u" x1="1080" y1="3584" x2="1813" y2="3584"/></g>
<g id="n6-8"><rect class="bx" x="603" y="3637" width="100" height="84"/><text class="t" x="618" y="3687">6.8.</text><text class="t" x="653" y="3660">水平</text><text class="t" x="653" y="3686">权限</text><text class="t" x="653" y="3711">提升</text><line class="u" x1="596" y1="3721" x2="703" y2="3721"/></g>
<g id="n6-8-1"><rect class="bx" x="764" y="3622" width="669" height="33"/><text class="t" x="777" y="3645">6.8.1.水平权限提升更简单，因为它允许用户使用从初始访问中获得的相同权限</text><line class="u" x1="740" y1="3655" x2="1433" y2="3655"/></g>
<g id="n6-8-2"><rect class="bx" x="764" y="3665" width="705" height="33"/><text class="t" x="777" y="3688">6.8.2.当攻击者能够使用普通用户账户访问受保护的资源时，也会发生水平权限提升</text><line class="u" x1="740" y1="3698" x2="1469" y2="3698"/></g>
<g id="n6-8-3"><rect class="bx" x="764" y="3709" width="649" height="33"/><use href="#s" x="786" y="3724"/><text class="t r" x="806" y="3732">6.8.3.通过窃取会话和Cookie、跨站脚本、猜测弱密码和记录击键实现的</text><line class="u" x1="740" y1="3742" x2="1413" y2="3742"/></g>
<g id="n6-8-4"><rect class="bx" x="764" y="3752" width="692" height="33"/><text class="t b" x="780" y="3775">6.8.4.在这一阶段结束时，攻击者通常已经建立了进入目标系统的远程访问入口点</text><line class="u" x1="740" y1="3785" x2="1456" y2="3785"/></g>
<g id="n6-9"><rect class="bx" x="605" y="3805" width="322" height="33"/><use href="#s" x="627" y="3820"/><text class="t r" x="644" y="3828">6.9.攻击者有时不仅仅是泄露数据</text><line class="u" x1="596" y1="3838" x2="1632" y2="3838"/></g>
<g id="n6-9-1"><rect class="bx" x="1000" y="3805" width="632" height="33"/><use href="#s" x="1021" y="3820"/><text class="t r" x="1041" y="3828">6.9.1.可以删除或修改存储在被入侵的计算机、系统和服务器中的文件</text></g>
<g id="n6-10"><rect class="bx" x="605" y="3848" width="786" height="33"/><use href="#s" x="627" y="3864"/><text class="t r" x="644" y="3871">6.10.成功达到这一阶段的黑客实际上已经控制了局面，受害者可能还不知道数据已经被盗</text><line class="u" x1="596" y1="3881" x2="1800" y2="3881"/></g>
<g id="n6-10-1"><rect class="bx" x="1463" y="3848" width="337" height="33"/><text class="t b" x="1476" y="3871">6.10.1.黑客可能会决定暂时保持沉默</text></g>

<g id="n7"><rect class="k" x="411" y="4040" width="109" height="94" rx="6"/><text class="h" x="437" y="4096">7.</text><text class="h hm" x="479" y="4080">安</text><text class="h hm" x="479" y="4114">装</text></g>
<g id="n7-1"><rect class="bx" x="581" y="3947" width="855" height="33"/><text class="t" x="592" y="3970">7.1.在安装过程中，攻击者在网络中自由漫游，复制他们认为有价值的所有数据，同时确保不被检测到</text><line class="u" x1="568" y1="3980" x2="1436" y2="3980"/></g>
<g id="n7-2"><rect class="bx" x="581" y="3990" width="634" height="33"/><text class="t b" x="592" y="4013">7.2.当数据已经被窃取并可以公开或出售时，可以选择在前一阶段结束攻击</text><line class="u" x1="568" y1="4023" x2="1215" y2="4023"/></g>
<g id="n7-3"><rect class="bx" x="581" y="4033" width="679" height="33"/><use href="#s" x="601" y="4049"/><text class="t r" x="618" y="4056">7.3.攻击者安装了一个后门程序，让他们可以随时访问受害者的计算机和系统</text><line class="u" x1="568" y1="4066" x2="1260" y2="4066"/></g>
<g id="n7-4"><rect class="bx" x="581" y="4076" width="545" height="33"/><use href="#s" x="601" y="4092"/><text class="t r" x="618" y="4099">7.4.主要目的是争取时间进行另一次比利用阶段更有害的攻击</text><line class="u" x1="568" y1="4109" x2="1126" y2="4109"/></g>
<g id="n7-5"><rect class="bx" x="581" y="4120" width="464" height="33"/><text class="t b" x="592" y="4143">7.5.攻击者的动机是超越数据和软件，攻击组织的硬件</text><line class="u" x1="568" y1="4153" x2="1674" y2="4153"/></g>
<g id="n7-5-1"><rect class="bx" x="1120" y="4120" width="554" height="33"/><use href="#s" x="1139" y="4136"/><text class="t r" x="1156" y="4143">7.5.1.受害者的安全工具在检测或阻止攻击方面是全然无效的</text></g>
<g id="n7-6"><rect class="bx" x="581" y="4162" width="819" height="33"/><text class="t" x="592" y="4185">7.6.攻击者通常有多个通往受害者的访问点，因此即使关闭了一个访问点，其访问也不会受到影响</text><line class="u" x1="568" y1="4195" x2="1400" y2="4195"/></g>

<g id="n8"><rect class="k" x="411" y="4307" width="183" height="59" rx="6"/><text class="h" x="437" y="4346">8. 指挥控制</text></g>
<g id="n8-1"><rect class="bx" x="660" y="4261" width="336" height="33"/><use href="#s" x="677" y="4276"/><text class="t r" x="696" y="4284">8.1.建立在安装阶段建立的后门之上</text><line class="u" x1="649" y1="4294" x2="996" y2="4294"/></g>
<g id="n8-2"><rect class="bx" x="660" y="4304" width="555" height="33"/><text class="t" x="669" y="4327">8.2.在指挥控制阶段，攻击者利用其后门进入系统，远程操纵目标</text><line class="u" x1="649" y1="4337" x2="1215" y2="4337"/></g>
<g id="n8-3"><rect class="bx" x="660" y="4345" width="646" height="33"/><text class="t" x="669" y="4368">8.3.威胁行为者会一直等到受害者离开他们的计算机，然后采取行动进行攻击</text><line class="u" x1="649" y1="4378" x2="1306" y2="4378"/></g>

<g id="n9"><rect class="k" x="411" y="4917" width="109" height="230" rx="6"/><text class="h" x="437" y="5041">9.</text><text class="h hm" x="479" y="4957">针</text><text class="h hm" x="479" y="4993">对</text><text class="h hm" x="479" y="5026">目</text><text class="h hm" x="479" y="5061">标</text><text class="h hm" x="479" y="5095">行</text><text class="h hm" x="479" y="5129">动</text></g>
<g id="n9-1"><rect class="bx" x="575" y="4445" width="457" height="33"/><use href="#s" x="601" y="4460"/><text class="t r" x="618" y="4468">9.1.针对目标行动是网络攻击中最令人恐惧的阶段</text><line class="u" x1="568" y1="4478" x2="1032" y2="4478"/></g>
<g id="n9-2"><rect class="bx" x="575" y="4499" width="257" height="57"/><text class="t" x="592" y="4533">9.2.</text><text class="t" x="627" y="4522">这是攻击者造成的破坏</text><text class="t" x="627" y="4548">超出数据和软件的地方</text><line class="u" x1="568" y1="4556" x2="832" y2="4556"/></g>
<g id="n9-2-1"><rect class="bx" x="895" y="4501" width="487" height="33"/><use href="#s" x="914" y="4517"/><text class="t r" x="931" y="4524">9.2.1.攻击者可能会永久禁用或改变受害者硬件的功能</text><line class="u" x1="880" y1="4534" x2="1382" y2="4534"/></g>
<g id="n9-2-2"><rect class="bx" x="895" y="4544" width="505" height="33"/><use href="#s" x="914" y="4560"/><text class="t r" x="931" y="4567">9.2.2.攻击者专注于破坏受损系统和计算设备控制的硬件</text><line class="u" x1="880" y1="4577" x2="1400" y2="4577"/></g>
<g id="n9-3"><rect class="bx" x="575" y="4679" width="179" height="84"/><text class="t" x="592" y="4728">9.3.</text><text class="t" x="627" y="4703">针对伊朗核电</text><text class="t" x="627" y="4728">站的Stuxnet</text><text class="t" x="627" y="4754">攻击</text><line class="u" x1="568" y1="4763" x2="754" y2="4763"/></g>
<g id="n9-3-1"><rect class="bx" x="812" y="4606" width="457" height="33"/><text class="t" x="825" y="4629">9.3.1.第一个记录在案的用于破坏物理资源的数字武器</text><line class="u" x1="790" y1="4639" x2="1269" y2="4639"/></g>
<g id="n9-3-2"><rect class="bx" x="812" y="4648" width="585" height="33"/><text class="t" x="825" y="4671">9.3.2.Stuxnet遵循之前解释的阶段，并在该设施的网络中驻留了一年</text><line class="u" x1="790" y1="4681" x2="1397" y2="4681"/></g>
<g id="n9-3-3"><rect class="bx" x="812" y="4690" width="755" height="33"/><text class="t" x="825" y="4713">9.3.3.最初，Stuxnet被用于操纵核设施中的阀门，导致压力增加并损坏工厂中的一些设备</text><line class="u" x1="790" y1="4723" x2="1567" y2="4723"/></g>
<g id="n9-3-4"><rect class="bx" x="812" y="4803" width="229" height="83"/><text class="t" x="825" y="4853">9.3.4.</text><text class="t" x="875" y="4826">然后，恶意软件被</text><text class="t" x="875" y="4853">修改成攻击更大的</text><text class="t" x="875" y="4879">目标—离心机</text><line class="u" x1="790" y1="4886" x2="1041" y2="4886"/></g>
<g id="n9-3-4-1"><rect class="bx" x="1097" y="4743" width="722" height="33"/><text class="t" x="1110" y="4766">9.3.4.1.因为没有连接到互联网，所以恶意软件是通过USB驱动器传播到目标计算机的</text><line class="u" x1="1080" y1="4776" x2="1819" y2="4776"/></g>
<g id="n9-3-4-2"><rect class="bx" x="1097" y="4784" width="742" height="33"/><text class="t" x="1110" y="4807">9.3.4.2.一旦它感染了其中一台目标计算机，恶意软件就会自我复制并传播到其他计算机</text><line class="u" x1="1080" y1="4817" x2="1839" y2="4817"/></g>
<g id="n9-3-4-3"><rect class="bx" x="1097" y="4828" width="525" height="57"/><text class="t" x="1110" y="4863">9.3.4.3.</text><text class="t" x="1175" y="4851">恶意软件进入下一阶段，感染了西门子公司一款名</text><text class="t" x="1175" y="4877">为Step7的软件，该软件用于控制逻辑控制器的编程</text><line class="u" x1="1080" y1="4885" x2="1622" y2="4885"/></g>
<g id="n9-3-4-4"><rect class="bx" x="1097" y="4894" width="646" height="33"/><text class="t" x="1110" y="4917">9.3.4.4.一旦该软件被入侵，恶意软件最终将获得对程序逻辑控制器的访问权</text><line class="u" x1="1080" y1="4927" x2="1743" y2="4927"/></g>
<g id="n9-3-4-5"><rect class="bx" x="1097" y="4939" width="300" height="58"/><text class="t" x="1110" y="4975">9.3.4.5.</text><text class="t" x="1175" y="4963">这使得攻击者能够直接操</text><text class="t" x="1175" y="4989">作核电站中的各种机器</text><line class="u" x1="1080" y1="4997" x2="1800" y2="4997"/></g>
<g id="n9-3-4-5-1"><rect class="bx" x="1460" y="4939" width="340" height="58"/><text class="t b" x="1472" y="4975">9.3.4.5.1.</text><text class="t b" x="1561" y="4960">攻击者使高速旋转的离心机</text><text class="t b" x="1561" y="4987">失控地旋转，并自行开裂</text></g>
<g id="n9-4"><rect class="bx" x="575" y="5027" width="779" height="33"/><use href="#s" x="601" y="5043"/><text class="t r" x="618" y="5050">9.4.针对目标行动包括所有旨在损害网络、系统和数据的机密性、完整性和可用性的活动</text><line class="u" x1="568" y1="5060" x2="1354" y2="5060"/></g>
<g id="n9-5"><rect class="bx" x="575" y="5237" width="261" height="86"/><use href="#s" x="601" y="5280"/><text class="t r" x="618" y="5287">9.5.</text><text class="t r" x="653" y="5260">在针对目标行动阶</text><text class="t r" x="653" y="5287">段可能实施的一种</text><text class="t r" x="653" y="5313">攻击是数据渗出</text><line class="u" x1="568" y1="5323" x2="836" y2="5323"/></g>
<g id="n9-5-1"><rect class="bx" x="895" y="5111" width="178" height="33"/><text class="t" x="907" y="5134">9.5.1.电子邮件外发</text><line class="u" x1="880" y1="5144" x2="1073" y2="5144"/></g>
<g id="n9-5-1-1"><rect class="bx" x="1145" y="5090" width="720" height="33"/><text class="t" x="1156" y="5113">9.5.1.1.黑客用于渗出数据的便捷方法之一，只需通过电子邮件用互联网将其发送即可</text><line class="u" x1="1110" y1="5123" x2="1865" y2="5123"/></g>
<g id="n9-5-1-2"><rect class="bx" x="1145" y="5131" width="795" height="33"/><text class="t" x="1156" y="5154">9.5.1.2.可以快速登录受害者机器上的一次性电子邮件账户，并将数据发送到另一个一次性账户</text><line class="u" x1="1110" y1="5164" x2="1940" y2="5164"/></g>
<g id="n9-5-2"><rect class="bx" x="895" y="5183" width="104" height="33"/><text class="t" x="907" y="5206">9.5.2.下载</text><line class="u" x1="880" y1="5216" x2="1894" y2="5216"/></g>
<g id="n9-5-2-1"><rect class="bx" x="1070" y="5183" width="824" height="33"/><text class="t" x="1081" y="5206">9.5.2.1.当受害者的计算机被远程连接到黑客的计算机时，黑客可以将数据直接下载到本地设备上</text></g>
<g id="n9-5-3"><rect class="bx" x="895" y="5226" width="156" height="33"/><text class="t" x="907" y="5249">9.5.3.外部驱动器</text><line class="u" x1="880" y1="5259" x2="1857" y2="5259"/></g>
<g id="n9-5-3-1"><rect class="bx" x="1125" y="5226" width="732" height="33"/><text class="t" x="1136" y="5249">9.5.3.1.当黑客对受损系统有物理访问权限时，他们可以将数据直接渗出到外部驱动器</text></g>
<g id="n9-5-4"><rect class="bx" x="895" y="5317" width="121" height="33"/><text class="t" x="907" y="5340">9.5.4.云渗出</text><line class="u" x1="880" y1="5350" x2="1016" y2="5350"/></g>
<g id="n9-5-4-1"><rect class="bx" x="1087" y="5278" width="816" height="33"/><text class="t" x="1100" y="5301">9.5.4.1.如果黑客获得了用户或组织的云存储空间的访问权限，云中的数据就可以通过下载被渗出</text><line class="u" x1="1055" y1="5311" x2="1903" y2="5311"/></g>
<g id="n9-5-4-2"><rect class="bx" x="1087" y="5330" width="258" height="59"/><use href="#s" x="1107" y="5360"/><text class="t r" x="1123" y="5367">9.5.4.2.</text><text class="t r" x="1198" y="5353">云存储空间也可</text><text class="t r" x="1198" y="5379">以用于渗出目的</text><line class="u" x1="1055" y1="5389" x2="1345" y2="5389"/></g>
<g id="n9-5-4-2-1"><rect class="bx" x="1405" y="5335" width="434" height="33"/><text class="t" x="1417" y="5358">9.5.4.2.1.大多数组织不会阻止对云存储空间的访问</text><line class="u" x1="1385" y1="5368" x2="1839" y2="5368"/></g>
<g id="n9-5-4-2-2"><rect class="bx" x="1405" y="5378" width="561" height="33"/><use href="#s" x="1426" y="5393"/><text class="t r" x="1443" y="5401">9.5.4.2.2.黑客可以用它们上传数据，然后将其下载到本地设备</text><line class="u" x1="1385" y1="5411" x2="1966" y2="5411"/></g>
<g id="n9-5-5"><rect class="bx" x="895" y="5471" width="141" height="33"/><text class="t" x="907" y="5494">9.5.5.恶意软件</text><line class="u" x1="880" y1="5504" x2="1036" y2="5504"/></g>
<g id="n9-5-5-1"><rect class="bx" x="1105" y="5449" width="721" height="33"/><text class="t" x="1117" y="5472">9.5.5.1.黑客在受害者的计算机中植入恶意软件，专门用来发送受害者计算机中的数据</text><line class="u" x1="1080" y1="5482" x2="1826" y2="5482"/></g>
<g id="n9-5-5-2"><rect class="bx" x="1105" y="5492" width="534" height="33"/><text class="t" x="1117" y="5515">9.5.5.2.包括击键日志、浏览器中存储的密码和浏览器历史记录</text><line class="u" x1="1080" y1="5525" x2="1639" y2="5525"/></g>
<g id="n9-6"><rect class="bx" x="575" y="5554" width="476" height="33"/><use href="#s" x="601" y="5570"/><text class="t r" x="618" y="5577">9.6.数据可以卖给有意愿的买家，也可以泄露给公众</text><line class="u" x1="568" y1="5587" x2="1051" y2="5587"/></g>

<g id="n10"><rect class="k" x="411" y="6484" width="124" height="94" rx="6"/><text class="h" x="437" y="6540">10.</text><text class="h hm" x="496" y="6523">混</text><text class="h hm" x="496" y="6557">淆</text></g>
<g id="n10-1"><rect class="bx" x="594" y="5653" width="497" height="33"/><text class="t" x="610" y="5676">10.1.攻击的最后阶段，一些攻击者可能会选择忽略这一点</text><line class="u" x1="588" y1="5686" x2="1091" y2="5686"/></g>
<g id="n10-2"><rect class="bx" x="594" y="5710" width="311" height="55"/><use href="#s" x="618" y="5737"/><text class="t r" x="636" y="5742">10.2.</text><text class="t r" x="683" y="5729">主要目的是让攻击者出于</text><text class="t r" x="683" y="5754">各种原因掩盖他们的踪迹</text><line class="u" x1="588" y1="5765" x2="905" y2="5765"/></g>
<g id="n10-2-1"><rect class="bx" x="966" y="5711" width="886" height="33"/><text class="t" x="977" y="5734">10.2.1.如果攻击者不想让人知道，他们就会使用各种技术来混淆、阻止或转移网络攻击后的取证调查过程</text><line class="u" x1="940" y1="5744" x2="1852" y2="5744"/></g>
<g id="n10-2-2"><rect class="bx" x="966" y="5753" width="810" height="33"/><text class="t" x="977" y="5776">10.2.2.如果一些攻击者匿名操作或想要吹嘘自己的功绩，可能会选择不加掩饰地留下他们的踪迹</text><line class="u" x1="940" y1="5786" x2="1776" y2="5786"/></g>
<g id="n10-3"><rect class="bx" x="594" y="5806" width="592" height="33"/><text class="t" x="610" y="5829">10.3.攻击者阻止他们的对手追上他们的方法之一是混淆他们的攻击来</text><line class="u" x1="588" y1="5839" x2="1635" y2="5839"/></g>
<g id="n10-3-1"><rect class="bx" x="1257" y="5806" width="378" height="33"/><use href="#s" x="1276" y="5823"/><text class="t r" x="1293" y="5829">10.3.1.另一种是在事后隐藏他们的踪迹</text></g>
<g id="n10-4"><rect class="bx" x="601" y="6189" width="98" height="135"/><text class="t" x="610" y="6263">10.4.</text><text class="t" x="654" y="6212">常</text><text class="t" x="654" y="6238">用</text><text class="t" x="654" y="6263">的</text><text class="t" x="654" y="6289">技</text><text class="t" x="654" y="6315">术</text><line class="u" x1="588" y1="6324" x2="699" y2="6324"/></g>
<g id="n10-4-1"><rect class="bx" x="742" y="5912" width="113" height="33"/><text class="t" x="757" y="5935">10.4.1.加密</text><line class="u" x1="735" y1="5945" x2="855" y2="5945"/></g>
<g id="n10-4-1-1"><rect class="bx" x="930" y="5869" width="751" height="33"/><text class="t" x="943" y="5892">10.4.1.1.为了锁定所有与网络入侵相关的证据，黑客可能会选择加密他们访问的所有系统</text><line class="u" x1="900" y1="5902" x2="1681" y2="5902"/></g>
<g id="n10-4-1-2"><rect class="bx" x="930" y="5912" width="679" height="33"/><text class="t b" x="943" y="5935">10.4.1.2.实际上使得任何数据（如元数据）对于取证调查人员来说都是不可读的</text><line class="u" x1="900" y1="5945" x2="1609" y2="5945"/></g>
<g id="n10-4-1-3"><rect class="bx" x="930" y="5955" width="535" height="33"/><use href="#s" x="951" y="5971"/><text class="t r" x="969" y="5978">10.4.1.3.受害者更难识别黑客在破坏系统后执行的恶意操作</text><line class="u" x1="900" y1="5988" x2="1465" y2="5988"/></g>
<g id="n10-4-2"><rect class="bx" x="742" y="6101" width="133" height="33"/><text class="t" x="757" y="6124">10.4.2.隐写术</text><line class="u" x1="735" y1="6134" x2="875" y2="6134"/></g>
<g id="n10-4-2-1"><rect class="bx" x="948" y="6017" width="465" height="33"/><text class="t" x="960" y="6040">10.4.2.1.在一些事件中，黑客是受害者组织的内部威胁</text><line class="u" x1="915" y1="6050" x2="1413" y2="6050"/></g>
<g id="n10-4-2-2"><rect class="bx" x="948" y="6059" width="848" height="33"/><text class="t" x="960" y="6082">10.4.2.2.在将敏感数据发送到网络之外时，他们可能会选择使用隐写术，以避免在数据渗出时被发现</text><line class="u" x1="915" y1="6092" x2="1796" y2="6092"/></g>
<g id="n10-4-2-3"><rect class="bx" x="948" y="6101" width="560" height="33"/><text class="t" x="960" y="6124">10.4.2.3.这是将秘密信息隐藏在诸如图像这类非秘密数据中的方式</text><line class="u" x1="915" y1="6134" x2="1508" y2="6134"/></g>
<g id="n10-4-2-4"><rect class="bx" x="948" y="6143" width="639" height="33"/><text class="t" x="960" y="6166">10.4.2.4.图像可以自由地发送到组织内部和外部，因为它们看起来无关紧要</text><line class="u" x1="915" y1="6176" x2="1587" y2="6176"/></g>
<g id="n10-4-2-5"><rect class="bx" x="948" y="6185" width="730" height="33"/><text class="t" x="960" y="6208">10.4.2.5.黑客可以通过隐写术发送大量敏感信息，而不会引发任何告警，也不会被抓到</text><line class="u" x1="915" y1="6218" x2="1678" y2="6218"/></g>
<g id="n10-4-3"><rect class="bx" x="742" y="6237" width="153" height="33"/><text class="t" x="757" y="6260">10.4.3.篡改日志</text><line class="u" x1="735" y1="6270" x2="1839" y2="6270"/></g>
<g id="n10-4-3-1"><rect class="bx" x="966" y="6237" width="873" height="33"/><text class="t" x="979" y="6260">10.4.3.1.攻击者可以选择通过修改系统访问日志以显示没有捕获可疑访问事件来擦除其在系统中的存在</text></g>
<g id="n10-4-4"><rect class="bx" x="742" y="6332" width="113" height="33"/><text class="t" x="757" y="6355">10.4.4.隧道</text><line class="u" x1="735" y1="6365" x2="855" y2="6365"/></g>
<g id="n10-4-4-1"><rect class="bx" x="930" y="6290" width="787" height="33"/><text class="t" x="943" y="6313">10.4.4.1.黑客在这里创建一条安全隧道，通过该隧道将数据从受害者的网络发送到另一个位置</text><line class="u" x1="900" y1="6323" x2="1717" y2="6323"/></g>
<g id="n10-4-4-2"><rect class="bx" x="930" y="6332" width="644" height="33"/><text class="t b" x="943" y="6355">10.4.4.2.隧道确保所有数据都是端到端加密的，并且无法在传输过程中读取</text><line class="u" x1="900" y1="6365" x2="1574" y2="6365"/></g>
<g id="n10-4-4-3"><rect class="bx" x="930" y="6375" width="666" height="33"/><use href="#s" x="951" y="6392"/><text class="t r" x="969" y="6398">10.4.4.3.除非组织设置了加密连接监控，否则数据将通过防火墙等安全工具</text><line class="u" x1="900" y1="6408" x2="1596" y2="6408"/></g>
<g id="n10-4-5"><rect class="bx" x="742" y="6480" width="185" height="33"/><use href="#s" x="768" y="6496"/><text class="t r" x="784" y="6503">10.4.5.洋葱路由</text><line class="u" x1="735" y1="6513" x2="927" y2="6513"/></g>
<g id="n10-4-5-1"><rect class="bx" x="995" y="6437" width="491" height="33"/><text class="t" x="1008" y="6460">10.4.5.1.黑客可以通过洋葱路由秘密渗出数据或相互通信</text><line class="u" x1="965" y1="6470" x2="1486" y2="6470"/></g>
<g id="n10-4-5-2"><rect class="bx" x="995" y="6480" width="735" height="33"/><text class="t" x="1008" y="6503">10.4.5.2.洋葱路由涉及多层加密，数据从一个节点跳转到另一个节点，直至到达目的地</text><line class="u" x1="965" y1="6513" x2="1730" y2="6513"/></g>
<g id="n10-4-5-3"><rect class="bx" x="995" y="6521" width="716" height="33"/><text class="t" x="1008" y="6544">10.4.5.3.调查人员很难通过这样的连接追踪数据踪迹，因为他们需要突破每一层加密</text><line class="u" x1="965" y1="6554" x2="1711" y2="6554"/></g>
<g id="n10-4-6"><rect class="bx" x="742" y="6669" width="162" height="33"/><text class="t b" x="757" y="6692">10.4.6. 擦除硬盘</text><line class="u" x1="735" y1="6702" x2="904" y2="6702"/></g>
<g id="n10-4-6-1"><rect class="bx" x="977" y="6585" width="206" height="33"/><use href="#s" x="999" y="6601"/><text class="t r" x="1016" y="6608">10.4.6.1.销毁证据</text><line class="u" x1="945" y1="6618" x2="1183" y2="6618"/></g>
<g id="n10-4-6-2"><rect class="bx" x="977" y="6627" width="692" height="33"/><text class="t" x="988" y="6650">10.4.6.2.黑客可以擦除他们入侵的系统的硬盘，使受害者无法辨别黑客的恶意活动</text><line class="u" x1="945" y1="6660" x2="1669" y2="6660"/></g>
<g id="n10-4-6-3"><rect class="bx" x="977" y="6669" width="410" height="33"/><text class="t" x="988" y="6692">10.4.6.3.擦除不是通过简单地删除数据来完成的</text><line class="u" x1="945" y1="6702" x2="1387" y2="6702"/></g>
<g id="n10-4-6-4"><rect class="bx" x="977" y="6710" width="599" height="33"/><text class="t" x="988" y="6733">10.4.6.4.由于硬盘内容可以恢复，黑客会多次覆盖数据并清除磁盘内容</text><line class="u" x1="945" y1="6743" x2="1576" y2="6743"/></g>
<g id="n10-4-6-5"><rect class="bx" x="977" y="6754" width="329" height="33"/><use href="#s" x="999" y="6770"/><text class="t r" x="1016" y="6777">10.4.6.5.将使硬盘的内容难以恢复</text><line class="u" x1="945" y1="6787" x2="1306" y2="6787"/></g>
<g id="n10-5"><rect class="bx" x="594" y="6825" width="571" height="33"/><text class="t" x="610" y="6848">10.5.攻击的源头将被追踪到不定期执行更新的无辜小企业的服务器</text><line class="u" x1="588" y1="6858" x2="1165" y2="6858"/></g>
<g id="n10-6"><rect class="bx" x="603" y="6912" width="252" height="58"/><text class="t" x="610" y="6949">10.6.</text><text class="t" x="653" y="6934">另一种来源混淆技术是</text><text class="t" x="653" y="6960">使用公立学校的服务器</text><line class="u" x1="588" y1="6970" x2="855" y2="6970"/></g>
<g id="n10-6-1"><rect class="bx" x="918" y="6878" width="636" height="58"/><text class="t" x="930" y="6914">10.6.1.</text><text class="t" x="990" y="6901">黑客多次使用这种技术，他们侵入公立学校易受攻击的网络应用程</text><text class="t" x="990" y="6927">序，并横向侵入学校的网络，在服务器上安装后门和Rootkit病毒</text><line class="u" x1="890" y1="6936" x2="1554" y2="6936"/></g>
<g id="n10-6-2"><rect class="bx" x="918" y="6946" width="482" height="58"/><text class="t" x="930" y="6983">10.6.2.</text><text class="t" x="990" y="6970">然后这些服务器被用来对更大的目标发动攻击，</text><text class="t" x="990" y="6995">因为取证调查将确定公立学校是攻击的源头</text><line class="u" x1="890" y1="7004" x2="1400" y2="7004"/></g>
<g id="n10-7"><rect class="bx" x="594" y="7041" width="248" height="58"/><text class="t" x="610" y="7077">10.7.</text><text class="t" x="653" y="7065">社交俱乐部也被用来</text><text class="t" x="653" y="7090">掩盖黑客攻击的来源</text><line class="u" x1="588" y1="7099" x2="842" y2="7099"/></g>
<g id="n10-7-1"><rect class="bx" x="904" y="7032" width="574" height="33"/><text class="t" x="917" y="7055">10.7.1.社交俱乐部为会员提供免费Wi-Fi，但并不总是受到高度保护</text><line class="u" x1="880" y1="7065" x2="1478" y2="7065"/></g>
<g id="n10-7-2"><rect class="bx" x="904" y="7075" width="504" height="57"/><text class="t" x="917" y="7111">10.7.2.</text><text class="t" x="977" y="7098">这为黑客提供了感染设备的理想场所，之后黑客可</text><text class="t" x="977" y="7123">以在所有者不知情的情况下使用这些设备执行攻击</text><line class="u" x1="880" y1="7132" x2="1408" y2="7132"/></g>
<g id="n10-8"><rect class="bx" x="594" y="7161" width="294" height="60"/><use href="#s" x="618" y="7192"/><text class="t r" x="636" y="7199">10.8.</text><text class="t r" x="683" y="7185">黑客通常使用的另一种</text><text class="t r" x="683" y="7213">混淆技术是剥离元数据</text><line class="u" x1="588" y1="7221" x2="1694" y2="7221"/></g>
<g id="n10-8-1"><rect class="bx" x="950" y="7188" width="744" height="33"/><text class="t" x="962" y="7211">10.8.1.在他们的黑客活动中留下任何元数据都是不负责任的，因为这可能会让他们垮台</text></g>
<g id="n10-9"><rect class="bx" x="594" y="7299" width="235" height="84"/><text class="t" x="610" y="7349">10.9.</text><text class="t" x="653" y="7323">黑客使用动态代码</text><text class="t" x="653" y="7349">混淆来掩盖他们的</text><text class="t" x="653" y="7374">踪迹也是很常见的</text><line class="u" x1="588" y1="7383" x2="829" y2="7383"/></g>
<g id="n10-9-1"><rect class="bx" x="888" y="7242" width="793" height="33"/><text class="t" x="901" y="7265">10.9.1.包括生成不同的恶意代码来攻击目标，可以阻止基于签名的防病毒和防火墙程序的检测</text><line class="u" x1="870" y1="7275" x2="1681" y2="7275"/></g>
<g id="n10-9-2"><rect class="bx" x="888" y="7284" width="568" height="33"/><text class="t" x="901" y="7307">10.9.2.可以使用随机化函数或通过改变一些函数参数来生成代码段</text><line class="u" x1="870" y1="7317" x2="1456" y2="7317"/></g>
<g id="n10-9-3"><rect class="bx" x="891" y="7327" width="382" height="59"/><use href="#s" x="912" y="7356"/><text class="t r" x="928" y="7363">10.9.3.</text><text class="t r" x="995" y="7349">任何基于签名的安全工具都难以</text><text class="t r" x="995" y="7375">保护系统免受恶意代码的攻击</text><line class="u" x1="870" y1="7386" x2="1813" y2="7386"/></g>
<g id="n10-9-3-1"><rect class="bx" x="1335" y="7327" width="478" height="59"/><text class="t" x="1347" y="7364">10.9.3.1.</text><text class="t" x="1421" y="7351">这也使得取证调查人员很难识别出攻击者，因</text><text class="t" x="1421" y="7376">为大多数黑客攻击都是通过随机代码完成的</text></g>
<g id="n10-9-4"><rect class="bx" x="888" y="7410" width="259" height="83"/><text class="t" x="901" y="7460">10.9.4.</text><text class="t" x="962" y="7435">黑客会使用动态代码</text><text class="t" x="962" y="7460">生成器在原始代码中</text><text class="t" x="962" y="7486">添加无意义的代码</text><line class="u" x1="870" y1="7493" x2="1147" y2="7493"/></g>
<g id="n10-9-4-1"><rect class="bx" x="1208" y="7406" width="732" height="33"/><text class="t" x="1221" y="7429">10.9.4.1.这使得黑客攻击在调查人员看来非常复杂，并延迟了他们分析恶意代码的进度</text><line class="u" x1="1185" y1="7439" x2="1940" y2="7439"/></g>
<g id="n10-9-4-2"><rect class="bx" x="1208" y="7447" width="506" height="33"/><text class="t" x="1221" y="7470">10.9.4.2.几行代码可能会变成数千或数百万行无意义的代码</text><line class="u" x1="1185" y1="7480" x2="1714" y2="7480"/></g>
<g id="n10-9-4-3"><rect class="bx" x="1211" y="7491" width="517" height="57"/><text class="t" x="1221" y="7527">10.9.4.3.</text><text class="t" x="1297" y="7514">能会阻碍取证调查人员更深入地分析代码以识别一</text><text class="t" x="1297" y="7539">些独特的元素，或者寻找指向原始编码器的线索</text><line class="u" x1="1185" y1="7548" x2="1728" y2="7548"/></g>
</svg>
